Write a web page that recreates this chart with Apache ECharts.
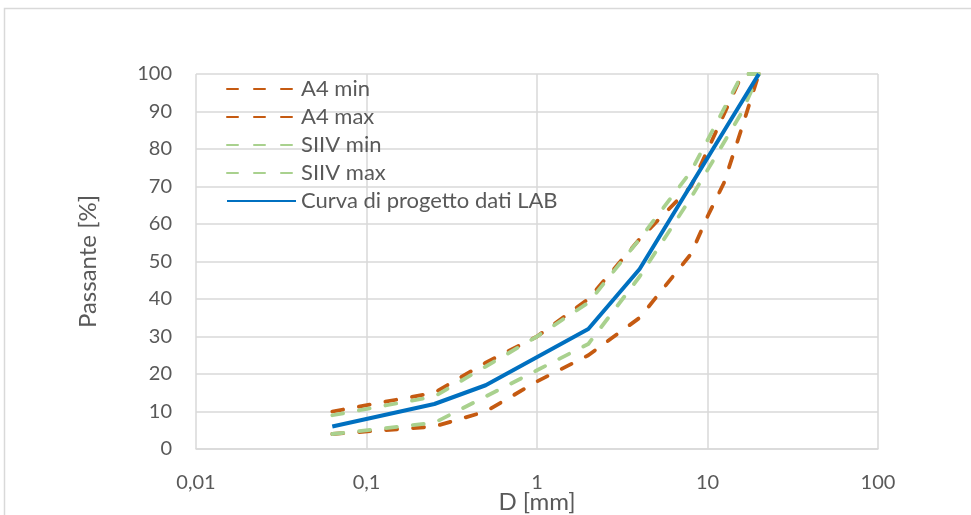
<!DOCTYPE html>
<html>
<head>
<meta charset="utf-8">
<script src="https://cdn.jsdelivr.net/npm/echarts@6/dist/echarts.min.js"></script>
<style>
  html, body { margin: 0; padding: 0; background: #ffffff; }
  #chart { width: 971px; height: 515px; }
</style>
</head>
<body>
<div id="chart"></div>
<script>
// Sieve openings (mm) shared by all grading curves
const sieveSizes = [0.063, 0.25, 0.5, 1, 2, 4, 8, 10, 12.5, 16, 20];

// Passing percentages per sieve (null = sieve not used by that curve)
const a4Min   = [4, 6, 10, 18, 25, 35, 52, 62, 71, 86, 100];
const a4Max   = [10, 15, 23, 30, 40, 56, 70, null, null, 100, 100];
const siivMin = [4, 7, 14, 21, 28, 46, 67, null, null, 90, 100];
const siivMax = [9, 14, 22, 30, 39, 56, 74, null, null, 100, 100];
const labCurve = [6, 12, 17, null, 32, 48, null, null, null, null, 100];

const seriesNames = ['A4 min', 'A4 max', 'SIIV min', 'SIIV max', 'Curva di progetto dati LAB'];
const xTickLabels = ['0,01', '0,1', '1', '10', '100'];
const yTicks = [0, 10, 20, 30, 40, 50, 60, 70, 80, 90, 100];

const FONT = 'Lato';
const TEXT = '#595959';
const GRID = '#D9D9D9';
const ORANGE = '#C55A11';
const GREEN = '#A9D18E';
const BLUE = '#0070C0';

function pairs(values) {
  const out = [];
  sieveSizes.forEach((d, i) => { if (values[i] !== null) out.push([d, values[i]]); });
  return out;
}

function dashed(name, values, color) {
  return {
    name: name, type: 'line', data: pairs(values),
    symbol: 'none', showSymbol: false,
    lineStyle: { color: color, width: 3.8, type: [11, 16], cap: 'round' },
    itemStyle: { color: color }
  };
}

const chart = echarts.init(document.getElementById('chart'), null, { renderer: 'canvas' });

chart.setOption({
  animation: false,
  backgroundColor: '#ffffff',
  textStyle: { fontFamily: FONT },
  graphic: [{
    type: 'rect', silent: true, z: -10,
    shape: { x: 4.5, y: 8.5, width: 1100, height: 700 },
    style: { fill: 'none', stroke: GRID, lineWidth: 1.5 }
  }],
  grid: {
    left: 196, right: 93, top: 74, bottom: 66,
    containLabel: false, outerBoundsMode: 'none'
  },
  legend: {
    orient: 'vertical', left: 221, top: 73,
    itemWidth: 69, itemHeight: 20, itemGap: 6,
    itemStyle: { opacity: 0 },
    data: seriesNames,
    textStyle: { color: TEXT, fontSize: 22, fontFamily: FONT, lineHeight: 20 }
  },
  xAxis: {
    type: 'log', logBase: 10, min: 0.01, max: 100,
    name: 'D [mm]', nameLocation: 'middle', nameGap: 41, nameMoveOverlap: false,
    nameTextStyle: { color: TEXT, fontSize: 24, fontFamily: FONT },
    axisLine: { show: true, lineStyle: { color: GRID, width: 1.5 } },
    axisTick: { show: false },
    minorTick: { show: false },
    axisLabel: {
      color: TEXT, fontSize: 20, fontFamily: FONT, margin: 24,
      formatter: v => xTickLabels[Math.round(Math.log10(v)) + 2]
    },
    splitLine: { show: true, lineStyle: { color: GRID, width: 1.5 } }
  },
  yAxis: {
    type: 'value', min: yTicks[0], max: yTicks[yTicks.length - 1],
    interval: yTicks[1] - yTicks[0],
    name: 'Passante [%]', nameLocation: 'middle', nameGap: 96, nameRotate: 90,
    nameMoveOverlap: false,
    nameTextStyle: { color: TEXT, fontSize: 24, fontFamily: FONT },
    axisLine: { show: false },
    axisTick: { show: false },
    axisLabel: { color: TEXT, fontSize: 20, fontFamily: FONT, margin: 24 },
    splitLine: { show: true, lineStyle: { color: GRID, width: 1.5 } }
  },
  series: [
    dashed(seriesNames[0], a4Min, ORANGE),
    dashed(seriesNames[1], a4Max, ORANGE),
    dashed(seriesNames[2], siivMin, GREEN),
    dashed(seriesNames[3], siivMax, GREEN),
    {
      name: seriesNames[4], type: 'line', data: pairs(labCurve),
      symbol: 'none', showSymbol: false,
      lineStyle: { color: BLUE, width: 4 },
      itemStyle: { color: BLUE }
    }
  ]
});
</script>
</body>
</html>
